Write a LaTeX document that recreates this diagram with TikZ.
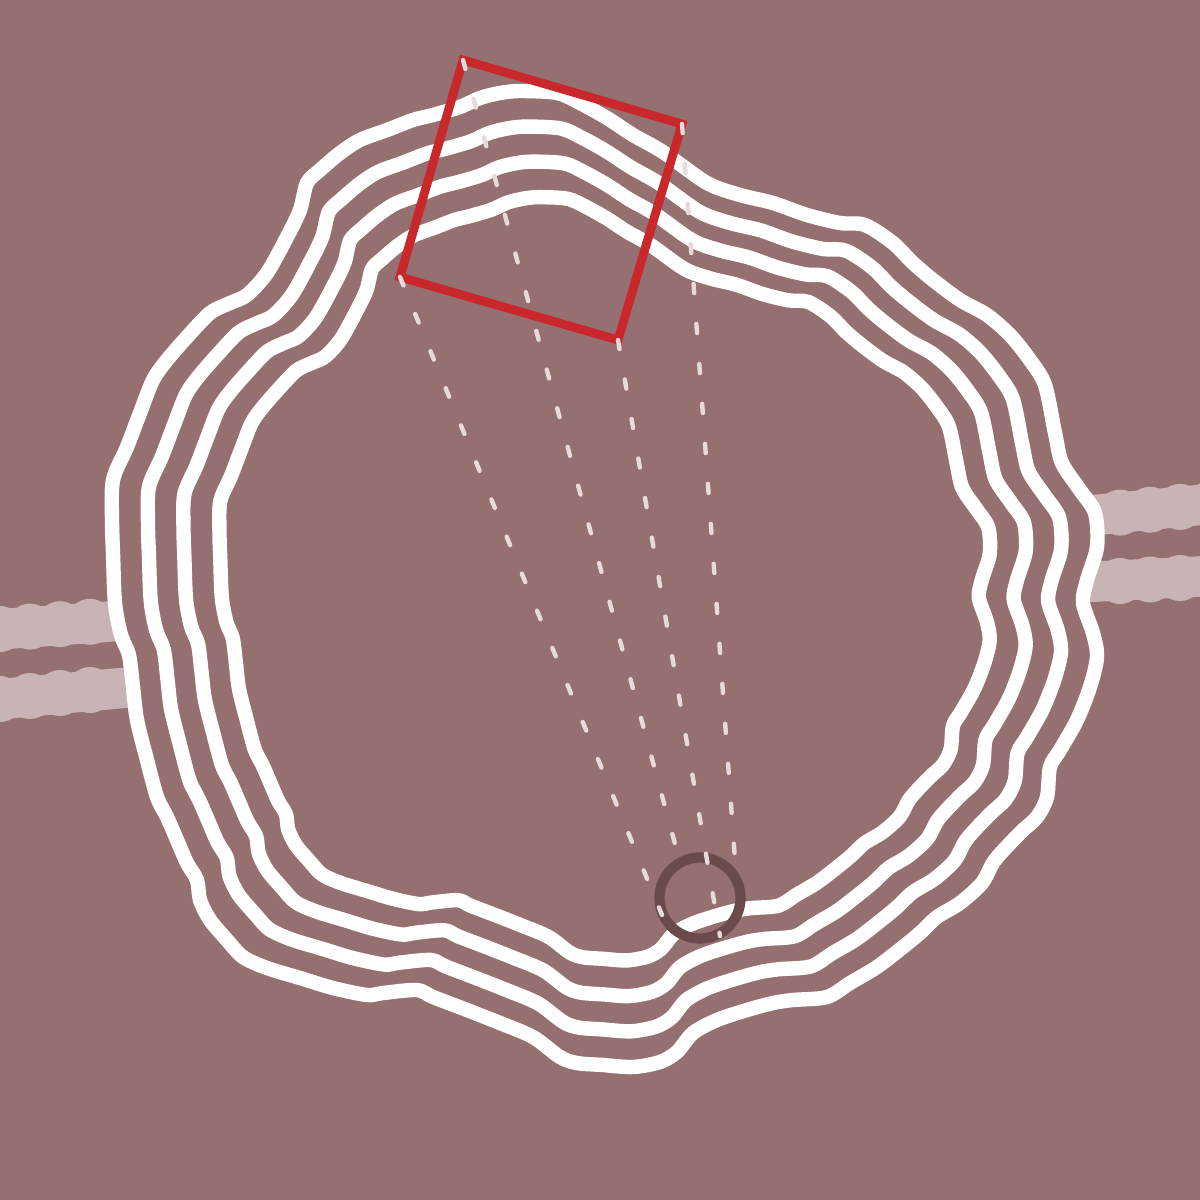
\documentclass[tikz,border=0pt]{standalone}
\usepackage{tikz}
\definecolor{bgmauve}{HTML}{967070}
\definecolor{bandpink}{HTML}{C8B4B4}
\definecolor{framered}{HTML}{C8282C}
\definecolor{lensbrown}{HTML}{6B4A4B}
\definecolor{raygrey}{HTML}{E8DADA}
% outer rim, traced in pixels
\def\rimpath{plot[smooth cycle] coordinates {
  (520,91) (557,93) (580,103) (607,118) (633,135) (663,152) (707,183) (740,195)
  (773,203) (807,215) (840,223) (865,225) (893,243) (913,263) (933,280) (960,300)
  (987,315) (1010,335) (1030,360) (1045,385) (1055,433) (1062,463) (1080,490) (1095,513)
  (1097,547) (1087,580) (1083,603) (1093,633) (1097,657) (1090,687) (1077,720) (1060,750)
  (1050,767) (1047,797) (1037,817) (1020,833) (995,860) (982,883) (960,903) (937,917)
  (920,933) (903,947) (877,967) (850,983) (827,997) (793,1000) (773,1003) (747,1010)
  (717,1020) (693,1033) (677,1052) (660,1062) (633,1067) (603,1065) (577,1063) (560,1057)
  (533,1037) (500,1023) (467,1010) (433,997) (417,990) (383,993) (367,995) (333,988)
  (300,978) (267,968) (243,957) (227,940) (210,920) (200,900) (197,880) (187,863)
  (177,840) (167,817) (157,797) (147,760) (137,720) (133,687) (129,655) (121,635)
  (115,603) (113,553) (112,520) (113,480) (127,447) (140,413) (153,380) (167,360)
  (187,337) (210,313) (230,303) (247,295) (267,273) (287,237) (300,210) (307,183)
  (320,170) (340,153) (360,140) (387,130) (413,120) (433,115) (460,107) (480,98) (500,93)}}

\begin{document}
\begin{tikzpicture}[x=0.01cm,y=-0.01cm,
    rim/.style={white,line width=4.1pt,line join=round},
    band/.style={bandpink,line width=11.5pt},
    ray/.style={raygrey,line width=1.25pt,line cap=round,dash pattern=on 2.6pt off 8.8pt}]
  \fill[bgmauve] (0,0) rectangle (1200,1200);
  \useasboundingbox (0,0) rectangle (1200,1200);
  % bands left and right
  \draw[band] (-10,630) -- (118,621);
  \draw[band] (-10,700) -- (133,687);
  \draw[band] (1095,515) -- (1210,504);
  \draw[band] (1087,582) -- (1210,576);
  \foreach \x in {0,30,60,90}{
    \fill[bandpink] (\x,629-0.08*\x) circle (0.23cm);
    \fill[bandpink] (\x,699-0.1*\x) circle (0.23cm);}
  \foreach \x in {1120,1150,1180,1210}{
    \fill[bandpink] (\x,515-0.095*\x+104) circle (0.23cm);
    \fill[bandpink] (\x,582-0.05*\x+55) circle (0.23cm);}
  % four rims
  \foreach \s in {1,0.927,0.855,0.782}
    \draw[rim,scale around={\s:(605,578)}] \rimpath;
  % frame
  \coordinate (c1) at (463,60);
  \coordinate (c2) at (682,124);
  \coordinate (c3) at (618,340);
  \coordinate (c4) at (400,277);
  \draw[framered,line width=2.5pt,line join=miter] (c1) -- (c2) -- (c3) -- (c4) -- cycle;
  % lens
  \coordinate (lens) at (700,898);
  \draw[lensbrown,line width=2.9pt] (lens) circle (0.405cm);
  % rays
  \coordinate (e1) at (678,855);
  \coordinate (e2) at (735,860);
  \coordinate (e3) at (720,936);
  \coordinate (e4) at (662,915);
  \draw[ray] (c1) -- (e1);
  \draw[ray] (c2) -- (e2);
  \draw[ray] (c3) -- (e3);
  \draw[ray] (c4) -- (e4);
\end{tikzpicture}
\end{document}
